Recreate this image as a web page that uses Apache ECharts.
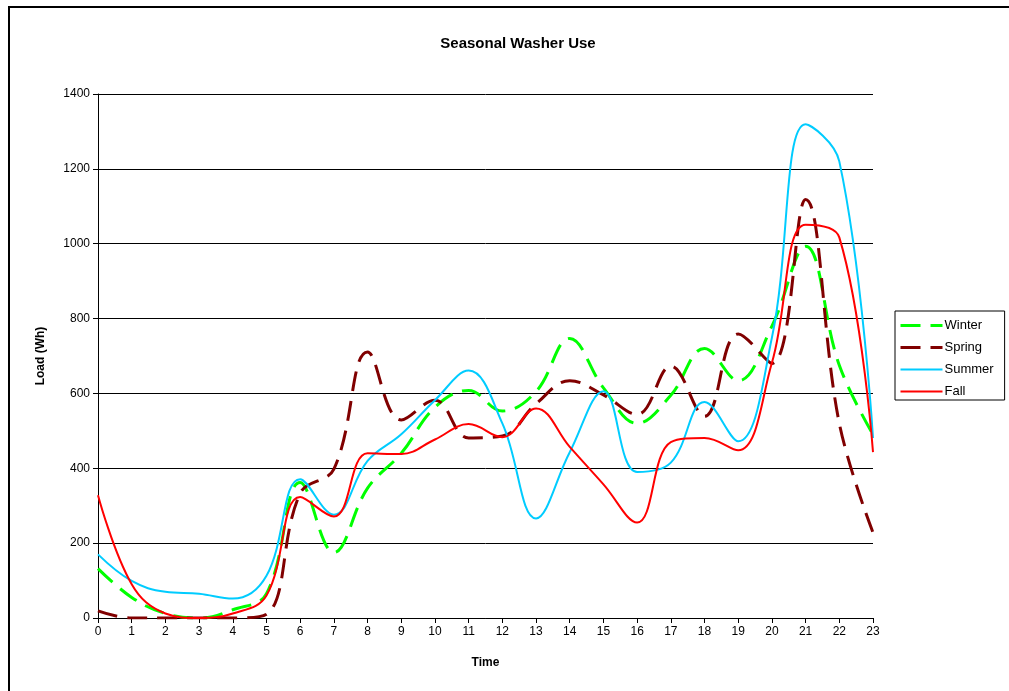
<!DOCTYPE html>
<html><head><meta charset="utf-8">
<script src="https://cdn.jsdelivr.net/npm/echarts@6/dist/echarts.min.js"></script>
<style>html,body{margin:0;padding:0;background:#fff;}#c{width:1009px;height:691px;}</style>
</head><body><div id="c"></div>
<script>
const hours = [0,1,2,3,4,5,6,7,8,9,10,11,12,13,14,15,16,17,18,19,20,21,22,23];
const winter = [132,55,12,0,22,65,362,175,347,440,563,608,553,605,747,615,520,595,720,634,780,993,675,490];
const spring = [19,0,0,0,0,10,333,398,711,529,582,481,486,572,634,596,544,673,539,759,680,1118,520,228];
const summer = [170,99,70,65,52,113,371,276,420,491,582,661,520,266,443,606,390,415,577,472,749,1319,1220,481];
const fall   = [328,90,12,0,12,60,323,271,440,438,477,518,483,560,457,357,255,470,481,448,682,1051,1017,443];
const yTicks = [0,200,400,600,800,1000,1200,1400];

const pairs = arr => hours.map((h,i)=>[h,arr[i]]);
const font = 'Liberation Sans, Arial, sans-serif';
const chart = echarts.init(document.getElementById('c'), null, {renderer:'canvas'});
chart.setOption({
  animation:false,
  backgroundColor:'#fff',
  title:{text:'Seasonal Washer Use',left:513,top:31,textAlign:'center',
    textStyle:{fontFamily:font,fontSize:15,fontWeight:'bold',color:'#000'}},
  grid:{left:98,top:94,width:775,height:524,containLabel:false},
  legend:{orient:'vertical',left:895,top:311,itemWidth:42,itemHeight:13,itemGap:9,
    borderColor:'#000',borderWidth:1,padding:[8,11,2,4],
    itemStyle:{opacity:0},
    textStyle:{fontFamily:font,fontSize:13,color:'#000',padding:[0,0,0,-3]},
    data:[{name:'Winter',lineStyle:{width:3}},{name:'Spring',lineStyle:{width:3}},
          {name:'Summer',lineStyle:{width:2}},{name:'Fall',lineStyle:{width:2}}]},
  xAxis:{type:'value',min:0,max:23,interval:1,name:'Time',nameLocation:'middle',nameGap:39,
    nameTextStyle:{fontFamily:font,fontSize:12,fontWeight:'bold',color:'#000'},
    axisLine:{lineStyle:{color:'#000',width:1}},
    axisTick:{show:true,length:5,inside:false,lineStyle:{color:'#000'}},
    axisLabel:{fontFamily:font,fontSize:12,color:'#000',margin:8},
    splitLine:{show:false}},
  yAxis:{type:'value',min:0,max:1400,interval:200,name:'Load (Wh)',nameLocation:'middle',nameGap:51,
    nameTextStyle:{fontFamily:font,fontSize:12,fontWeight:'bold',color:'#000'},
    axisLine:{show:true,lineStyle:{color:'#000',width:1}},
    axisTick:{show:true,length:5,lineStyle:{color:'#000'}},
    axisLabel:{fontFamily:font,fontSize:12,color:'#000',margin:8,
      formatter:v=>yTicks.includes(v)?String(v):''},
    splitLine:{show:true,lineStyle:{color:'#000',width:1}}},
  graphic:[{type:'rect',shape:{x:9,y:7,width:1200,height:1000},
    style:{fill:'none',stroke:'#000',lineWidth:2},silent:true,z:-1}],
  series:[
    {name:'Winter',type:'line',data:pairs(winter),smooth:0.4,symbol:'none',
      lineStyle:{color:'#00ff00',width:3,type:[20,10]},itemStyle:{color:'#00ff00'}},
    {name:'Spring',type:'line',data:pairs(spring),smooth:0.4,symbol:'none',
      lineStyle:{color:'#800000',width:3,type:[20,10]},itemStyle:{color:'#800000'}},
    {name:'Summer',type:'line',data:pairs(summer),smooth:0.4,symbol:'none',
      lineStyle:{color:'#00ccff',width:2},itemStyle:{color:'#00ccff'}},
    {name:'Fall',type:'line',data:pairs(fall),smooth:0.4,symbol:'none',
      lineStyle:{color:'#ff0000',width:2},itemStyle:{color:'#ff0000'}}
  ]
});
</script></body></html>
